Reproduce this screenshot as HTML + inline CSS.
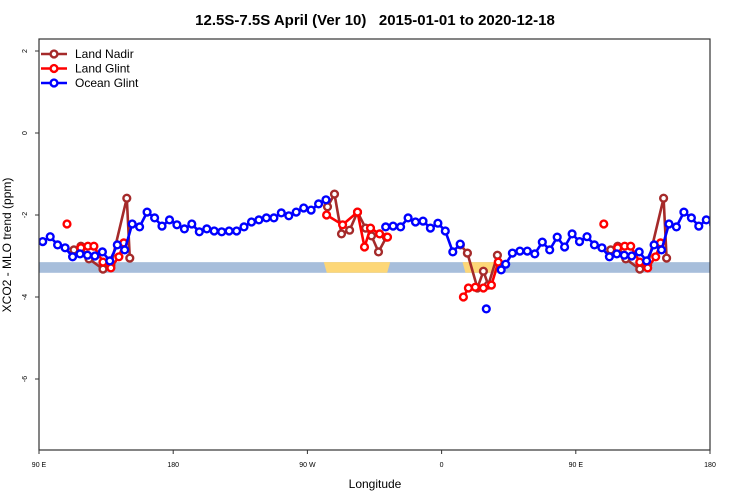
<!DOCTYPE html>
<html><head><meta charset="utf-8">
<style>
html,body{margin:0;padding:0;background:#fff;}
svg{display:block;font-family:"Liberation Sans",sans-serif;}
</style></head>
<body>
<svg id="chart" width="750" height="500" viewBox="0 0 750 500">
  <text x="375" y="25" text-anchor="middle" font-size="15" font-weight="bold" style="white-space:pre" xml:space="preserve">12.5S-7.5S April (Ver 10)   2015-01-01 to 2020-12-18</text>
  <text x="375" y="488" text-anchor="middle" font-size="12">Longitude</text>
  <text transform="translate(11,245) rotate(-90)" text-anchor="middle" font-size="12">XCO2 - MLO trend (ppm)</text>
  <defs><clipPath id="plotclip"><rect x="39" y="39" width="671" height="411"/></clipPath></defs>
  <g id="band" clip-path="url(#plotclip)"></g>
  <g id="series" clip-path="url(#plotclip)"></g>
  <g id="axes"></g>
  <g id="legend"></g>
</svg>
<script>
// ---- data ----
const xTickLons = [90, 180, 270, 360, 450, 540];
const xTickLabels = ["90 E", "180", "90 W", "0", "90 E", "180"];
const yTicks = [2, 0, -2, -4, -6];

const oceanLon = [92.5,97.5,102.5,107.5,112.5,117.5,122.5,127.5,132.5,137.5,142.5,147.5,152.5,157.5,162.5,167.5,172.5,177.5,182.5,187.5,192.5,197.5,202.5,207.5,212.5,217.5,222.5,227.5,232.5,237.5,242.5,247.5,252.5,257.5,262.5,267.5,272.5,277.5,282.5,
  null,322.5,327.5,332.5,337.5,342.5,347.5,352.5,357.5,362.5,367.5,372.5,
  null,390,null,400,403,407.5,412.5,417.5,422.5,427.5,432.5,437.5,442.5,447.5];
const oceanVal = [-2.65,-2.53,-2.73,-2.80,-3.02,-2.95,-2.98,-3.00,-2.90,-3.12,-2.73,-2.85,-2.22,-2.29,-1.93,-2.07,-2.27,-2.12,-2.24,-2.34,-2.22,-2.41,-2.34,-2.39,-2.41,-2.39,-2.39,-2.29,-2.17,-2.12,-2.07,-2.07,-1.95,-2.02,-1.93,-1.83,-1.88,-1.73,-1.63,
  null,-2.29,-2.27,-2.29,-2.07,-2.17,-2.15,-2.32,-2.20,-2.39,-2.90,-2.71,
  null,-4.29,null,-3.34,-3.20,-2.93,-2.88,-2.88,-2.95,-2.66,-2.85,-2.54,-2.78,-2.46];

const nadirLon = [113.4,118.1,123.5,132.9,138.2,148.9,150.9,null,283.5,288.2,292.9,298.3,303.6,309.0,313.0,317.7,323.0,null,372.6,377.3,384.0,388.0,391.3,397.4,null];
const nadirVal = [-2.85,-2.76,-3.07,-3.32,-3.22,-1.59,-3.05,null,-1.80,-1.49,-2.46,-2.37,-1.93,-2.32,-2.51,-2.90,-2.54,null,-2.73,-2.93,-3.78,-3.37,-3.71,-2.98,null];

const glintLon = [108.8,null,118.1,122.8,126.8,132.9,138.2,143.6,146.9,null,282.9,293.6,303.6,308.3,312.3,318.4,323.7,null,374.6,378.0,382.6,388.0,393.4,398.0,null];
const glintVal = [-2.22,null,-2.80,-2.76,-2.76,-3.15,-3.29,-3.02,-2.68,null,-2.00,-2.24,-1.93,-2.78,-2.32,-2.46,-2.54,null,-4.00,-3.78,-3.76,-3.78,-3.71,-3.15,null];

const landLonStart = [281, 374];
const landLonEnd = [325.5, 399];

// ---- scales ----
const X0 = 39, X1 = 710, Y0 = 39, Y1 = 450;
const LON0 = 90, LON1 = 540;
function xs(lon){ return X0 + (lon - LON0) / (LON1 - LON0) * (X1 - X0); }
function ys(v){ return 133 - 41 * v; }
const NS = "http://www.w3.org/2000/svg";
function mk(tag, attrs, parent){ const e = document.createElementNS(NS, tag); for (const k in attrs) e.setAttribute(k, attrs[k]); parent.appendChild(e); return e; }

// band
const band = document.getElementById('band');
const bandTop = ys(-3.15), bandBot = ys(-3.41);
const bandRect = mk('rect', {x: X0, y: bandTop, width: X1 - X0, height: bandBot - bandTop, fill: '#a7bedb'}, band);


for (let i = 0; i < landLonStart.length; i++) {
  const a = xs(landLonStart[i]), b = xs(landLonEnd[i]);
  const p = mk('polygon', {points: `${a},${bandTop} ${b},${bandTop} ${b-3},${bandBot} ${a+3},${bandBot}`, fill: '#fdd777'}, band);
  
  
}

// series
const seriesG = document.getElementById('series');
function extend(lons, vals){
  const L = [], V = [];
  for (let i = 0; i < lons.length; i++){ L.push(lons[i]); V.push(vals[i]); }
  for (let i = 0; i < lons.length; i++){
    if (lons[i] === null) { L.push(null); V.push(null); continue; }
    const l = lons[i] + 360;
    if (l <= LON1 + 5) { L.push(l); V.push(vals[i]); }
  }
  return [L, V];
}
function drawSeries(lons, vals, color, name){
  const [L, V] = extend(lons, vals);
  const g = mk('g', {}, seriesG);
  
  
  let d = '', pen = false;
  for (let i = 0; i < L.length; i++){
    if (L[i] === null) { pen = false; continue; }
    d += (pen ? 'L' : 'M') + xs(L[i]).toFixed(1) + ',' + ys(V[i]).toFixed(1) + ' ';
    pen = true;
  }
  const path = mk('path', {d: d, fill: 'none', stroke: color, 'stroke-width': 2.6, 'stroke-linejoin': 'round'}, g);
  
  
  for (let i = 0; i < L.length; i++){
    if (L[i] === null) continue;
    const c = mk('circle', {cx: xs(L[i]).toFixed(1), cy: ys(V[i]).toFixed(1), r: 3.4, fill: '#fff', stroke: color, 'stroke-width': 2.4}, g);
    
    
  }
}
drawSeries(nadirLon, nadirVal, '#a52a2a', 'land-nadir-series');
drawSeries(glintLon, glintVal, '#ff0000', 'land-glint-series');
drawSeries(oceanLon, oceanVal, '#0000ff', 'ocean-glint-series');

// axes
const axes = document.getElementById('axes');
const frame = mk('rect', {x: X0, y: Y0, width: X1 - X0, height: Y1 - Y0, fill: 'none', stroke: '#333', 'stroke-width': 1.2}, axes);


for (let i = 0; i < xTickLons.length; i++){
  const x = xs(xTickLons[i]);
  const t = mk('line', {x1: x, y1: Y1, x2: x, y2: Y1 + 4, stroke: '#333', 'stroke-width': 1}, axes);
  
  
  const lb = mk('text', {x: x, y: 467, 'text-anchor': 'middle', 'font-size': 7}, axes);
  lb.textContent = xTickLabels[i];
  
  
}
for (let i = 0; i < yTicks.length; i++){
  const y = ys(yTicks[i]);
  const t = mk('line', {x1: X0 - 4, y1: y, x2: X0, y2: y, stroke: '#333', 'stroke-width': 1}, axes);
  
  
  const lb = mk('text', {transform: `translate(27,${y}) rotate(-90)`, 'text-anchor': 'middle', 'font-size': 7}, axes);
  lb.textContent = yTicks[i];
  
  
}

// legend
const legend = document.getElementById('legend');
const legNames = ["Land Nadir", "Land Glint", "Ocean Glint"];
const legColors = ['#a52a2a', '#ff0000', '#0000ff'];
for (let i = 0; i < legNames.length; i++){
  const y = 54 + i * 14.5;
  const g = mk('g', {}, legend);
  
  
  mk('line', {x1: 41, y1: y, x2: 67, y2: y, stroke: legColors[i], 'stroke-width': 2.6}, g);
  mk('circle', {cx: 54, cy: y, r: 3.4, fill: '#fff', stroke: legColors[i], 'stroke-width': 2.4}, g);
  const tx = mk('text', {x: 75, y: y + 4, 'font-size': 12}, g);
  tx.textContent = legNames[i];
}
</script>
</body></html>
